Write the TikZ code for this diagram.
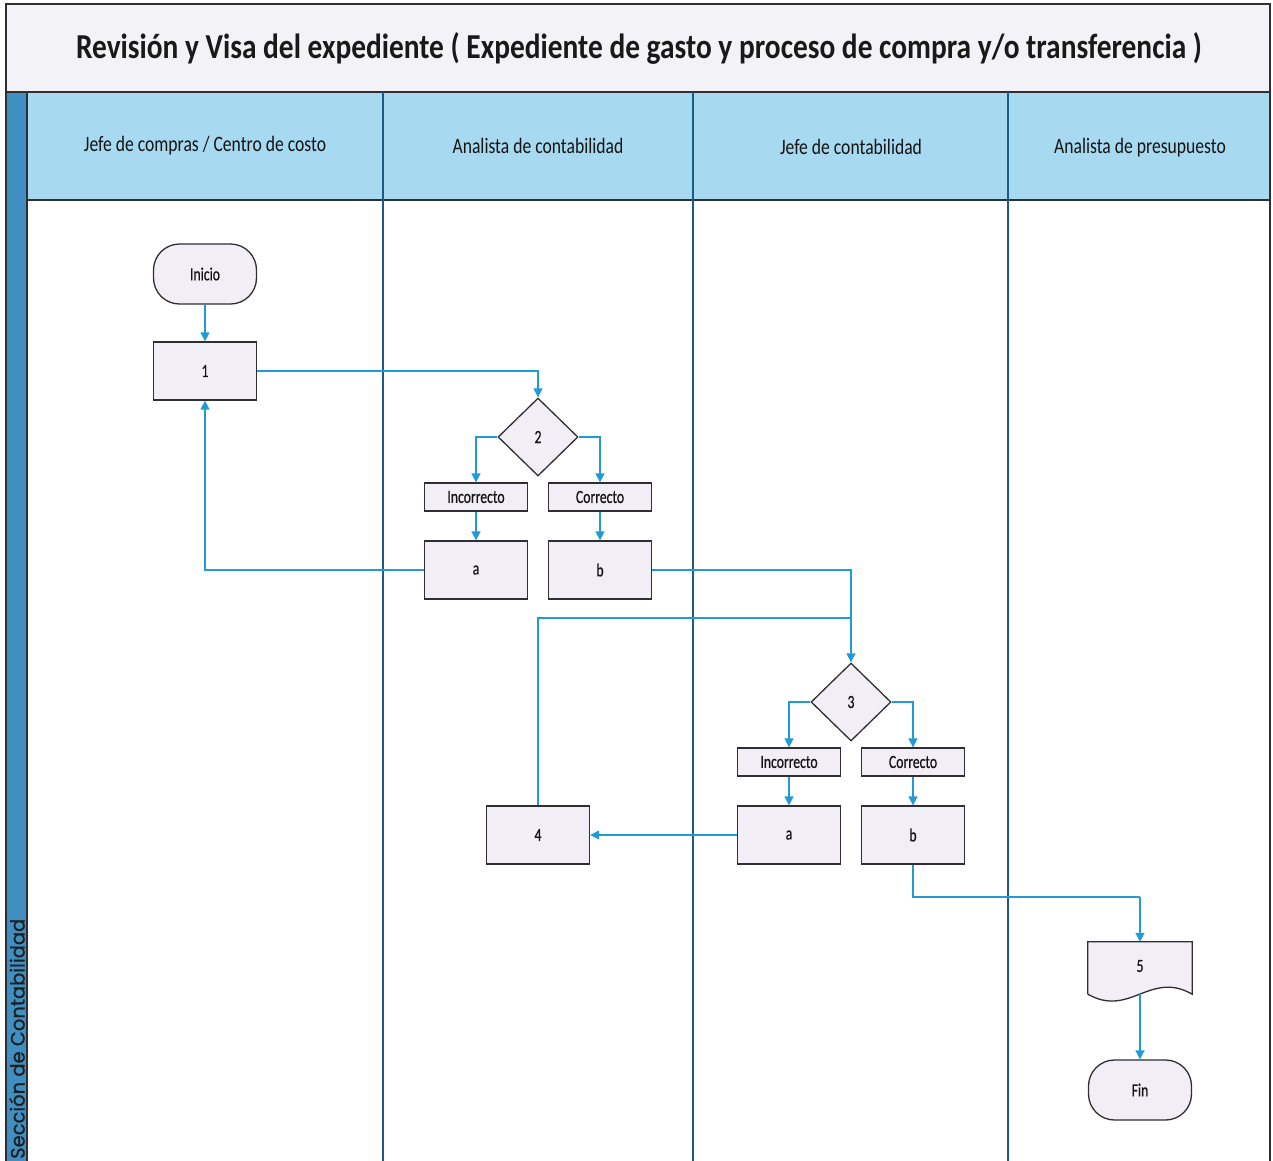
\documentclass[tikz,border=0pt]{standalone}
\usepackage{fontspec}
\setmainfont[FakeStretch=0.80]{Carlito}
\newfontfamily\titlefont[FakeStretch=0.84]{Carlito}
\newfontfamily\boxfont[FakeStretch=0.74,FakeBold=0.6]{Carlito}
\newfontfamily\sidefont[FakeBold=0.8]{Poppins}
\usetikzlibrary{shapes.geometric,arrows.meta}

\definecolor{titlebg}{HTML}{F3F2F6}
\definecolor{headbg}{HTML}{A7DAF1}
\definecolor{stripbg}{HTML}{3F8FC2}
\definecolor{boxbg}{HTML}{F1EFF5}
\definecolor{flow}{HTML}{239AD8}
\definecolor{lane}{HTML}{1D5A86}
\definecolor{frame}{HTML}{2E2E33}

\tikzset{
  proc/.style={draw=frame, line width=1.3pt, fill=boxbg, rectangle,
    minimum width=103pt, minimum height=58pt, inner sep=0pt,
    font=\boxfont\fontsize{18.5}{21}\selectfont, text=black!92},
  tag/.style={proc, minimum height=28pt},
  terminal/.style={proc, rounded corners=26pt, minimum height=60pt},
  decision/.style={draw=frame, line width=1.3pt, fill=boxbg, diamond, aspect=1,
    minimum width=80pt, minimum height=78pt, inner sep=0pt,
    font=\boxfont\fontsize{18.5}{21}\selectfont, text=black!92},
  conn/.style={draw=flow, line width=1.4pt},
  arr/.style={conn, -{Triangle[length=9pt,width=9pt]}},
  laneline/.style={draw=lane, line width=1.5pt},
  headtext/.style={font=\fontsize{22}{26}\selectfont, text=black!92},
}

\begin{document}
\begin{tikzpicture}[x=1pt, y=-1pt]
\useasboundingbox (0,0) rectangle (1273,1160);

% bands of the swimlane table
\fill[titlebg] (6,4) rectangle (1270,92);
\fill[headbg] (27,92) rectangle (1270,200);
\fill[stripbg] (6,92) rectangle (27,1165);
\draw[draw=frame, line width=1.5pt] (6,1165) -- (6,4) -- (1270,4) -- (1270,1165);
\draw[draw=frame, line width=1.5pt] (6,92) -- (1270,92);
\draw[draw=frame, line width=1.2pt] (27,92) -- (27,1165);
\draw[draw=frame, line width=1.2pt] (27,200) -- (1270,200);
\foreach \lx in {383,693,1008} \draw[laneline] (\lx,92) -- (\lx,1165);

% title and lane headings
\node[font=\titlefont\bfseries\fontsize{35}{40}\selectfont, text=black!90] (title) at (639,48)
  {Revisión y Visa del expediente ( Expediente de gasto y proceso de compra y/o transferencia )};
\node[headtext] (h1) at (205,146) {Jefe de compras / Centro de costo};
\node[headtext] (h2) at (538,146) {Analista de contabilidad};
\node[headtext] (h3) at (851,147) {Jefe de contabilidad};
\node[headtext] (h4) at (1140,148) {Analista de presupuesto};
\node[rotate=90, anchor=west, inner sep=0pt, font=\sidefont\fontsize{19.5}{22}\selectfont, text=black!88]
  (side) at (17,1159) {Sección de Contabilidad};

% flow nodes
\node[terminal] (ini) at (205,274) {Inicio};
\node[proc] (n1) at (205,371) {1};
\node[decision] (d2) at (538,437) {2};
\node[tag] (inc1) at (476,497) {Incorrecto};
\node[tag] (cor1) at (600,497) {Correcto};
\node[proc] (a1) at (476,570) {a};
\node[proc] (b1) at (600,570) {b};
\node[decision] (d3) at (851,702) {3};
\node[tag] (inc2) at (789,762) {Incorrecto};
\node[tag] (cor2) at (913,762) {Correcto};
\node[proc] (a2) at (789,835) {a};
\node[proc] (b2) at (913,835) {b};
\node[proc] (n4) at (538,835) {4};
% document symbol: text node plus outline with a wavy bottom edge
\node[rectangle, minimum width=104pt, minimum height=52pt, inner sep=0pt] (n5) at (1140,968) {};
\fill[boxbg] (n5.south west) -- (n5.north west) -- (n5.north east) -- (n5.south east)
  .. controls (1150,970) and (1130,1018) .. (n5.south west) -- cycle;
\draw[draw=frame, line width=1.3pt] (n5.south west) -- (n5.north west) -- (n5.north east) -- (n5.south east)
  .. controls (1150,970) and (1130,1018) .. (n5.south west);
\node[font=\boxfont\fontsize{18.5}{21}\selectfont, text=black!92] (t5) at (1140,966) {5};
\node[terminal] (fin) at (1140,1090) {Fin};

% junction points on the connectors
\coordinate (j3) at (851,618);
\coordinate (k5) at (1140,897);

% connectors
\draw[arr] (ini) -- (n1);
\draw[arr] (n1.east) -| (d2.north);
\draw[arr] (d2.west) -| (inc1.north);
\draw[arr] (d2.east) -| (cor1.north);
\draw[arr] (inc1) -- (a1);
\draw[arr] (cor1) -- (b1);
\draw[arr] (a1.west) -| (n1.south);
\draw[arr] (b1.east) -| (d3.north);
\draw[conn] (n4.north) |- (j3);
\draw[arr] (d3.west) -| (inc2.north);
\draw[arr] (d3.east) -| (cor2.north);
\draw[arr] (inc2) -- (a2);
\draw[arr] (cor2) -- (b2);
\draw[arr] (a2.west) -- (n4.east);
\draw[conn] (b2.south) |- (k5);
\draw[arr] (k5) -- (n5.north);
\draw[arr] (n5.south) -- (fin.north);
\end{tikzpicture}
\end{document}
